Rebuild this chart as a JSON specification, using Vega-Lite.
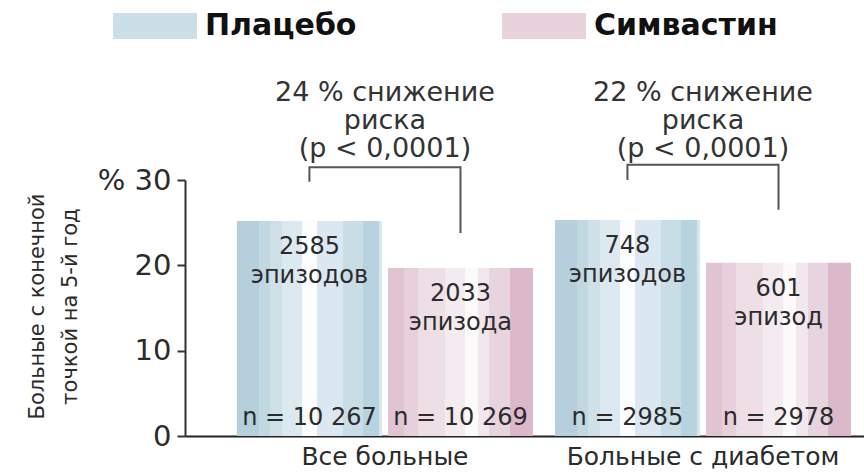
{
  "$schema": "https://vega.github.io/schema/vega-lite/v6.json",
  "width": 679,
  "height": 256,
  "autosize": {"type": "none"},
  "padding": {"left": 185, "top": 180, "right": 0, "bottom": 36},
  "background": "white",
  "config": {"view": {"stroke": null}, "font": "DejaVu Sans"},
  "datasets": {
    "bars": [
      {"group": "Все больные", "treatment": "Плацебо", "value": 25.2, "episodes": "2585\nэпизодов", "n": "n = 10 267"},
      {"group": "Все больные", "treatment": "Симвастин", "value": 19.7, "episodes": "2033\nэпизода", "n": "n = 10 269"},
      {"group": "Больные с диабетом", "treatment": "Плацебо", "value": 25.3, "episodes": "748\nэпизодов", "n": "n = 2985"},
      {"group": "Больные с диабетом", "treatment": "Симвастин", "value": 20.3, "episodes": "601\nэпизод", "n": "n = 2978"}
    ],
    "brackets": [
      {"group": "Все больные", "treatment": "Плацебо", "level": 29.8, "step": 1},
      {"group": "Все больные", "treatment": "Плацебо", "level": 31.5, "step": 2},
      {"group": "Все больные", "treatment": "Симвастин", "level": 31.5, "step": 3},
      {"group": "Все больные", "treatment": "Симвастин", "level": 23.8, "step": 4},
      {"group": "Больные с диабетом", "treatment": "Плацебо", "level": 30.0, "step": 1},
      {"group": "Больные с диабетом", "treatment": "Плацебо", "level": 31.8, "step": 2},
      {"group": "Больные с диабетом", "treatment": "Симвастин", "level": 31.8, "step": 3},
      {"group": "Больные с диабетом", "treatment": "Симвастин", "level": 26.5, "step": 4}
    ],
    "notes": [
      {"group": "Все больные", "note": "24 % снижение\nриска\n(p < 0,0001)"},
      {"group": "Больные с диабетом", "note": "22 % снижение\nриска\n(p < 0,0001)"}
    ]
  },
  "encoding": {
    "x": {
      "field": "group",
      "type": "nominal",
      "sort": ["Все больные", "Больные с диабетом"],
      "scale": {"paddingInner": 0.069, "paddingOuter": 0.102, "align": 0.8},
      "axis": {
        "title": null,
        "domainColor": "#222222",
        "domainWidth": 2,
        "ticks": false,
        "labelAngle": 0,
        "labelFontSize": 25,
        "labelColor": "#2b2b2b",
        "labelPadding": 8,
        "labelLimit": 500
      }
    }
  },
  "layer": [
    {
      "data": {"name": "bars"},
      "transform": [{"filter": "datum.treatment === 'Плацебо'"}],
      "mark": {
        "type": "bar",
        "color": {
          "gradient": "linear", "x1": 0, "y1": 0, "x2": 1, "y2": 0,
          "stops": [
            {"offset": 0, "color": "#b5d0dc"}, {"offset": 0.15, "color": "#b5d0dc"},
            {"offset": 0.15, "color": "#c1d8e1"}, {"offset": 0.23, "color": "#c1d8e1"},
            {"offset": 0.23, "color": "#cee1e9"}, {"offset": 0.31, "color": "#cee1e9"},
            {"offset": 0.31, "color": "#dde9f1"}, {"offset": 0.45, "color": "#dde9f1"},
            {"offset": 0.45, "color": "#fbfdfe"}, {"offset": 0.55, "color": "#fbfdfe"},
            {"offset": 0.55, "color": "#dce8f1"}, {"offset": 0.73, "color": "#dce8f1"},
            {"offset": 0.73, "color": "#c8dde6"}, {"offset": 0.87, "color": "#c8dde6"},
            {"offset": 0.87, "color": "#b8d3e0"}, {"offset": 0.98, "color": "#b8d3e0"},
            {"offset": 0.98, "color": "#d5e6ee"}, {"offset": 1, "color": "#d5e6ee"}
          ]
        }
      },
      "encoding": {
        "xOffset": {"field": "treatment", "type": "nominal", "sort": ["Плацебо", "Симвастин"], "scale": {"domain": ["Плацебо", "Симвастин"], "paddingInner": 0.04, "paddingOuter": 0}},
        "y": {
          "field": "value",
          "type": "quantitative",
          "scale": {"domain": [0, 30]},
          "axis": {
            "values": [0, 10, 20, 30],
            "labelExpr": "datum.value == 30 ? '% 30' : datum.label",
            "grid": false,
            "tickSize": 8,
            "tickWidth": 2,
            "tickColor": "#333333",
            "domainColor": "#333333",
            "domainWidth": 2,
            "labelFontSize": 29,
            "labelColor": "#2b2b2b",
            "labelPadding": 6,
            "title": ["Больные с конечной", "точкой на 5-й год"],
            "titleFontSize": 21,
            "titleFontWeight": "normal",
            "titleColor": "#2b2b2b",
            "titleLineHeight": 33,
            "titleAngle": -90,
            "titleX": -142,
            "titleY": 126,
            "titleAlign": "center",
            "titleBaseline": "alphabetic"
          }
        }
      }
    },
    {
      "data": {"name": "bars"},
      "transform": [{"filter": "datum.treatment === 'Симвастин'"}],
      "mark": {
        "type": "bar",
        "color": {
          "gradient": "linear", "x1": 0, "y1": 0, "x2": 1, "y2": 0,
          "stops": [
            {"offset": 0, "color": "#e0c4d2"}, {"offset": 0.11, "color": "#e0c4d2"},
            {"offset": 0.11, "color": "#e7d0db"}, {"offset": 0.21, "color": "#e7d0db"},
            {"offset": 0.21, "color": "#eedfe7"}, {"offset": 0.39, "color": "#eedfe7"},
            {"offset": 0.39, "color": "#f4ebf0"}, {"offset": 0.53, "color": "#f4ebf0"},
            {"offset": 0.53, "color": "#fdfafb"}, {"offset": 0.62, "color": "#fdfafb"},
            {"offset": 0.62, "color": "#f2e7ed"}, {"offset": 0.70, "color": "#f2e7ed"},
            {"offset": 0.70, "color": "#e8d4de"}, {"offset": 0.84, "color": "#e8d4de"},
            {"offset": 0.84, "color": "#dbb9ca"}, {"offset": 1, "color": "#dbb9ca"}
          ]
        }
      },
      "encoding": {
        "xOffset": {"field": "treatment", "type": "nominal", "sort": ["Плацебо", "Симвастин"]},
        "y": {"field": "value", "type": "quantitative"}
      }
    },
    {
      "data": {"name": "bars"},
      "mark": {"type": "square", "opacity": 0},
      "encoding": {
        "xOffset": {"field": "treatment", "type": "nominal", "sort": ["Плацебо", "Симвастин"]},
        "y": {"field": "value", "type": "quantitative"},
        "color": {
          "field": "treatment",
          "type": "nominal",
          "scale": {"domain": ["Плацебо", "Симвастин"], "range": ["#cbdfe8", "#e8d3dd"]},
          "legend": {
            "title": null,
            "orient": "none",
            "legendX": -72,
            "legendY": -196,
            "direction": "horizontal",
            "padding": 0,
            "symbolType": "M-1,-0.31H1V0.31H-1Z",
            "symbolSize": 7056,
            "symbolStrokeWidth": 0,
            "symbolOpacity": 1,
            "labelFontSize": 30,
            "labelFontWeight": "bold",
            "labelColor": "#111111",
            "labelOffset": 8,
            "labelLimit": 400,
            "columnPadding": 145
          }
        }
      }
    },
    {
      "data": {"name": "bars"},
      "mark": {"type": "text", "lineBreak": "\n", "fontSize": 24, "lineHeight": 29, "baseline": "middle", "dy": 26, "color": "#2b2b2b"},
      "encoding": {
        "xOffset": {"field": "treatment", "type": "nominal", "sort": ["Плацебо", "Симвастин"]},
        "y": {"field": "value", "type": "quantitative"},
        "text": {"field": "episodes", "type": "nominal"}
      }
    },
    {
      "data": {"name": "bars"},
      "mark": {"type": "text", "fontSize": 24, "baseline": "middle", "dy": -18, "color": "#2b2b2b"},
      "encoding": {
        "xOffset": {"field": "treatment", "type": "nominal", "sort": ["Плацебо", "Симвастин"]},
        "y": {"datum": 0, "type": "quantitative"},
        "text": {"field": "n", "type": "nominal"}
      }
    },
    {
      "data": {"name": "brackets"},
      "mark": {"type": "line", "color": "#555555", "strokeWidth": 2},
      "encoding": {
        "xOffset": {"field": "treatment", "type": "nominal", "sort": ["Плацебо", "Симвастин"]},
        "y": {"field": "level", "type": "quantitative"},
        "detail": {"field": "group", "type": "nominal"},
        "order": {"field": "step", "type": "quantitative"}
      }
    },
    {
      "data": {"name": "notes"},
      "mark": {"type": "text", "lineBreak": "\n", "fontSize": 27, "lineHeight": 28, "baseline": "middle", "color": "#333333"},
      "encoding": {
        "y": {"datum": 40.2, "type": "quantitative"},
        "text": {"field": "note", "type": "nominal"}
      }
    }
  ]
}
